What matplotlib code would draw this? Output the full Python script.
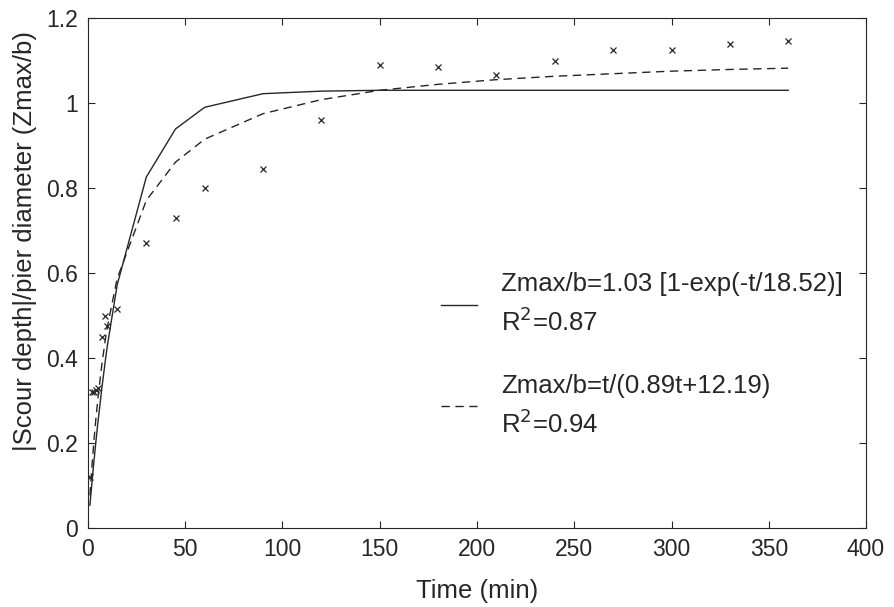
import numpy as np
import matplotlib.pyplot as plt
from matplotlib.ticker import FormatStrFormatter

plt.rcParams['font.family'] = ['Liberation Sans', 'DejaVu Sans']

# measured points
t_obs = [1, 2, 3, 4, 5, 7, 9, 10, 15, 30, 45, 60, 90, 120, 150, 180, 210, 240, 270, 300, 330, 360]
z_obs = [0.12, 0.32, 0.32, 0.325, 0.33, 0.45, 0.50, 0.475, 0.515, 0.67, 0.73, 0.80, 0.845,
         0.96, 1.09, 1.085, 1.065, 1.10, 1.125, 1.125, 1.14, 1.145]

# fitted curves
t_fit = [1, 2, 3, 4, 5, 7, 9, 10, 15, 30, 45, 60, 90, 120, 150, 180, 210, 240, 270, 300, 330, 360]
z_exp = [0.054, 0.105, 0.154, 0.200, 0.244, 0.324, 0.397, 0.430, 0.572, 0.826, 0.939, 0.990,
         1.022, 1.028, 1.030, 1.030, 1.030, 1.030, 1.030, 1.030, 1.030, 1.030]
z_hyp = [0.077, 0.143, 0.202, 0.254, 0.300, 0.380, 0.446, 0.474, 0.587, 0.771, 0.861, 0.915,
         0.975, 1.008, 1.030, 1.044, 1.055, 1.063, 1.069, 1.075, 1.079, 1.082]

fig = plt.figure(figsize=(8.94, 6.07), dpi=100)
ax = fig.add_axes([0.0984, 0.130, 0.8703, 0.8403])

ax.plot(t_obs, z_obs, 'x', color='#262626', markersize=5, markeredgewidth=0.9)
l1, = ax.plot(t_fit, z_exp, '-', color='#262626', lw=1.0,
              label='Zmax/b=1.03 [1-exp(-t/18.52)]\nR$^2$=0.87')
l2, = ax.plot(t_fit, z_hyp, '--', color='#262626', lw=1.0, dashes=(6, 4),
              label='Zmax/b=t/(0.89t+12.19)\nR$^2$=0.94')

ax.set_xlim(0, 400)
ax.set_ylim(0, 1.2)
ax.set_xticks(np.arange(0, 401, 50))
ax.set_yticks(np.arange(0, 1.21, 0.2))
ax.yaxis.set_major_formatter(FormatStrFormatter('%g'))
ax.tick_params(direction='in', top=True, right=True, labelsize=16.5, length=5,
               colors='#262626', pad=7)
for s in ax.spines.values():
    s.set_color('#262626')
    s.set_linewidth(0.8)

ax.set_xlabel('Time (min)', fontsize=18.5, color='#262626', labelpad=13)
ax.set_ylabel('|Scour depth|/pier diameter (Zmax/b)', fontsize=18.5, color='#262626')
ax.yaxis.set_label_coords(-0.066, 0.563)

leg = ax.legend(handles=[l1, l2], loc='upper left', bbox_to_anchor=(0.441, 0.522),
                frameon=False, fontsize=18.5, handlelength=1.4, handletextpad=0.93,
                labelspacing=1.45, borderaxespad=0)
for txt in leg.get_texts():
    txt.set_color('#262626')
    txt.set_linespacing(1.5)

fig.savefig('out.png', dpi=100)
